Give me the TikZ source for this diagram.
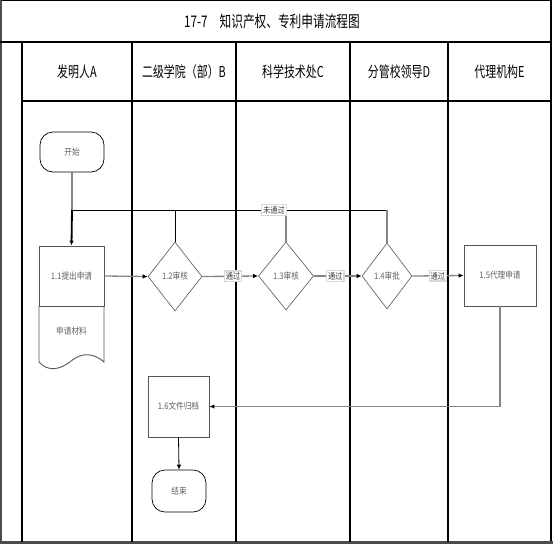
\documentclass[tikz,border=0pt]{standalone}
\usepackage{fontspec}
\usetikzlibrary{shapes.geometric,arrows.meta}
\newfontfamily\cjkbig[FakeStretch=0.73]{Noto Sans CJK SC}
\newfontfamily\cjksmall[FakeStretch=0.85]{Noto Sans CJK SC}
\definecolor{conn}{HTML}{858585}
\definecolor{shapeline}{HTML}{555555}
\definecolor{txt}{HTML}{606060}
\tikzset{
  titletext/.style={font=\cjkbig\fontsize{16}{18}\selectfont},
  headtext/.style={font=\cjkbig\fontsize{15}{17}\selectfont},
  lane/.style={line width=1.1pt, black},
  procbox/.style={draw=shapeline, line width=0.9pt, rectangle, inner sep=0pt, font=\cjksmall\fontsize{9}{10}\selectfont, text=txt},
  decision/.style={draw=shapeline, line width=0.6pt, diamond, aspect=0.78, inner sep=0pt, font=\cjksmall\fontsize{9}{10}\selectfont, text=txt},
  terminal/.style={draw=black, line width=0.7pt, rectangle, rounded corners=13pt, inner sep=0pt, font=\cjksmall\fontsize{9}{10}\selectfont, text=txt},
  plaintext/.style={inner sep=0pt, font=\cjksmall\fontsize{9}{10}\selectfont, text=txt},
  passlabel/.style={draw=black!15, fill=white, inner sep=1.5pt, font=\cjksmall\fontsize{8.5}{9}\selectfont, text=black!75},
  connector/.style={draw=conn, line width=1.3pt, -{Latex[length=5pt,width=4.5pt,color=black]}},
  plainconn/.style={draw=conn, line width=1.3pt},
  loopline/.style={draw=black, line width=0.8pt},
}
\begin{document}
\begin{tikzpicture}[x=1pt,y=-1pt]
\useasboundingbox (0,0) rectangle (553,544);
% frame
\draw[black, line width=1.2pt] (0,0.7) -- (551,0.7);
\draw[black, line width=1.3pt] (551,0) -- (551,542);
\draw[black!70, line width=2pt] (1,0) -- (1,542);
\draw[black!70, line width=3pt] (0,542) -- (553,542);
\draw[lane] (0,42) -- (551,42);
\draw[lane] (22,101) -- (551,101);
\draw[lane] (22,42) -- (22,542);
\draw[lane] (132,42) -- (132,542);
\draw[lane] (236,42) -- (236,542);
\draw[lane] (350,42) -- (350,542);
\draw[lane] (448,42) -- (448,542);
% title and headers
\node[titletext] (title) at (272,21) {17-7\hspace{12pt}知识产权、专利申请流程图};
\node[headtext] (hA) at (77,72) {发明人A};
\node[headtext] (hB) at (184,72) {二级学院（部）B};
\node[headtext] (hC) at (293,72) {科学技术处C};
\node[headtext] (hD) at (399,72) {分管校领导D};
\node[headtext] (hE) at (499.5,72) {代理机构E};
% nodes
\node[terminal, minimum width=64pt, minimum height=40pt] (start) at (72,152) {开始};
\node[procbox, minimum width=65pt, minimum height=60pt] (a11) at (71.5,276) {1.1提出申请};
\draw[shapeline, line width=0.9pt] (39,306) -- (39,362) .. controls (48,372) and (60,370) .. (71,361) .. controls (82,352) and (94,353) .. (104,362) -- (104,306);
\node[plaintext] (doc) at (71.5,331) {申请材料};
\node[decision, minimum width=54pt, minimum height=69pt] (d12) at (175,276.5) {1.2审核};
\node[decision, minimum width=55pt, minimum height=68pt] (d13) at (286,276) {1.3审核};
\node[decision, minimum width=50pt, minimum height=66pt] (d14) at (387,276) {1.4审批};
\node[procbox, minimum width=72pt, minimum height=61pt] (b15) at (500,275.5) {1.5代理申请};
\node[procbox, minimum width=61pt, minimum height=61pt] (b16) at (178.5,406.5) {1.6文件归档};
\node[terminal, minimum width=54pt, minimum height=42pt] (end) at (179,491) {结束};
\coordinate (j) at (72,210);
% connectors
\draw[plainconn] (start.south) -- (j);
\draw[black, line width=1.8pt, -{Latex[length=5pt,width=4.5pt]}] (j) -- (a11.north);
\draw[connector] (a11.east) -- (d12.west);
\draw[connector] (d12.east) -- node[passlabel, pos=0.55] (p1) {通过} (d13.west);
\draw[connector] (d13.east) -- node[passlabel, pos=0.45] (p2) {通过} (d14.west);
\draw[connector] (d14.east) -- node[passlabel, pos=0.5] (p3) {通过} (b15.west);
\draw[connector] (b15.south) |- (b16.east);
\draw[black, line width=0.8pt, -{Latex[length=5pt,width=4.5pt]}] (b16.south) -- (end.north);
% loop back (not passed)
\draw[loopline] (d12.north) -- (d12.north |- j);
\draw[loopline] (j) -- (d14.north |- j);
\draw[plainconn] (d13.north) -- (d13.north |- j);
\draw[plainconn] (d14.north) -- (d14.north |- j);
\node[passlabel] (np) at (274,210) {未通过};
\end{tikzpicture}
\end{document}
